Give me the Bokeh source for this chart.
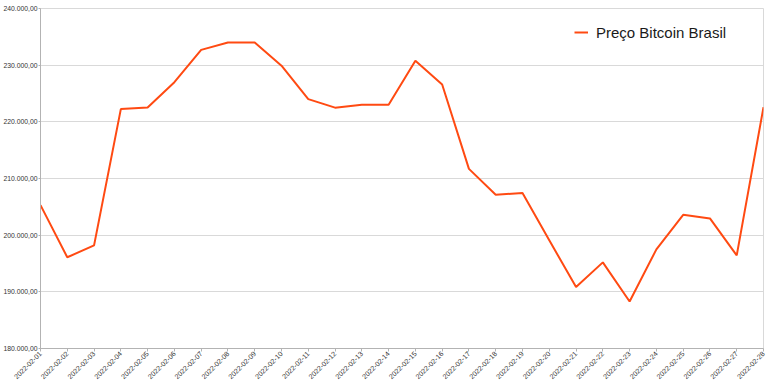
from bokeh.plotting import figure
from bokeh.models import FixedTicker, Legend, LegendItem, CustomJSTickFormatter
from bokeh.embed import file_html
from bokeh.resources import INLINE
import math

dates = ["2022-02-01", "2022-02-02", "2022-02-03", "2022-02-04", "2022-02-05", "2022-02-06",
         "2022-02-07", "2022-02-08", "2022-02-09", "2022-02-10", "2022-02-11", "2022-02-12",
         "2022-02-13", "2022-02-14", "2022-02-15", "2022-02-16", "2022-02-17", "2022-02-18",
         "2022-02-19", "2022-02-20", "2022-02-21", "2022-02-22", "2022-02-23", "2022-02-24",
         "2022-02-25", "2022-02-26", "2022-02-27", "2022-02-28"]
prices = [205300, 196100, 198200, 222250, 222530, 227000,
          232700, 234000, 234000, 229900, 224000, 222500,
          223000, 223000, 230780, 226600, 211700, 207140,
          207430, 199100, 190840, 195200, 188300, 197500,
          203600, 202960, 196440, 222600]
y_ticks = [180000, 190000, 200000, 210000, 220000, 230000, 240000]
series_name = "Preço Bitcoin Brasil"

xs = list(range(len(dates)))

p = figure(width=768, height=391, output_backend="svg", toolbar_location=None,
           x_range=(0, len(dates) - 1), y_range=(y_ticks[0], y_ticks[-1]),
           min_border_left=40, min_border_right=5, min_border_top=8, min_border_bottom=43)

r = p.line(xs, prices, line_color="#ff4a12", line_width=2)

FONT = "Liberation Sans"
p.xaxis.ticker = FixedTicker(ticks=xs)
p.xaxis.major_label_overrides = {i: d for i, d in enumerate(dates)}
p.xaxis.major_label_orientation = math.pi / 4
p.yaxis.ticker = FixedTicker(ticks=y_ticks)
p.yaxis.formatter = CustomJSTickFormatter(code="""
const s = Math.round(tick).toString().replace(/\\B(?=(\\d{3})+(?!\\d))/g, '.');
return s + ',00';
""")

for ax in (p.xaxis[0], p.yaxis[0]):
    ax.major_label_text_font = FONT
    ax.major_label_text_font_size = "7px"
    ax.major_label_text_color = "#333333"
    ax.axis_line_color = "#b3b3b3"
    ax.major_tick_line_color = "#b3b3b3"
    ax.major_tick_out = 3
    ax.major_tick_in = 0
    ax.minor_tick_line_color = None
    ax.major_label_standoff = 1

p.yaxis.major_label_text_font_size = "6.8px"
p.yaxis.major_tick_out = 2

p.xgrid.grid_line_color = None
p.ygrid.grid_line_color = "#d9d9d9"
p.ygrid.grid_line_width = 1
p.outline_line_color = "#d9d9d9"
p.background_fill_color = "white"
p.border_fill_color = "white"

legend = Legend(items=[LegendItem(label=series_name, renderers=[r])],
                location=(534, 306), border_line_color=None, background_fill_alpha=0,
                label_text_font=FONT, label_text_font_size="15px", label_text_color="#1a1a1a",
                glyph_width=14, label_standoff=8, padding=0, margin=0)
p.add_layout(legend)

open("out.html", "w").write(file_html(p, INLINE))
